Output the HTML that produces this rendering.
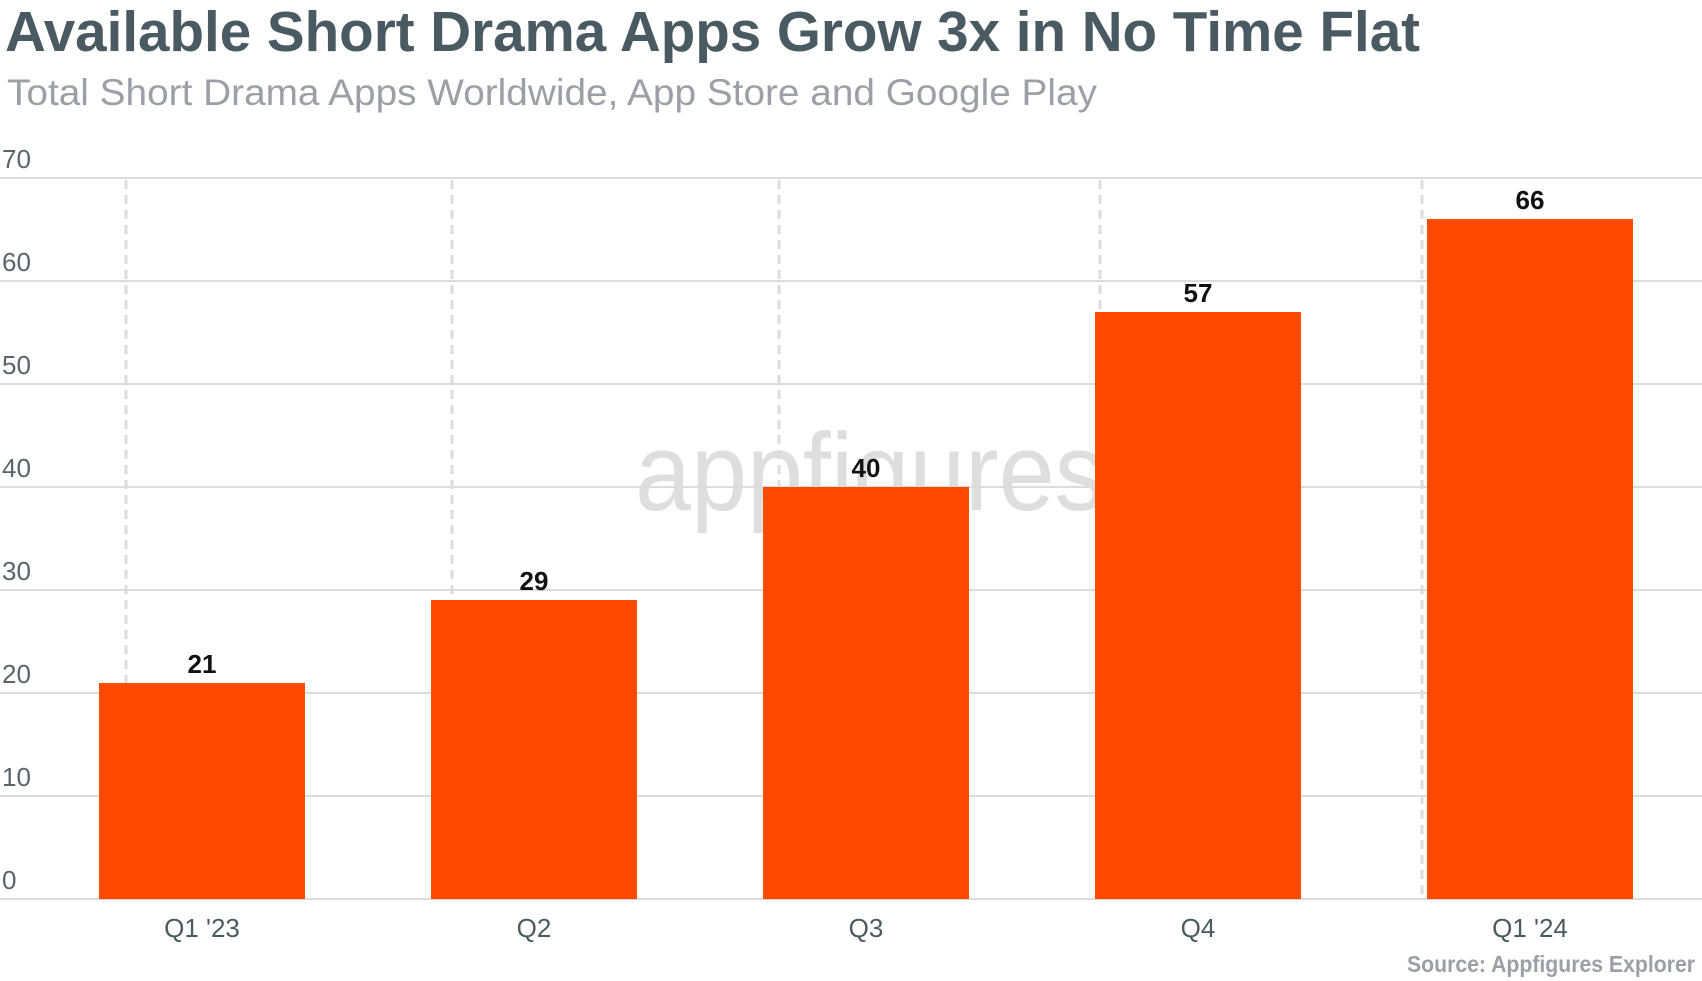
<!DOCTYPE html>
<html><head><meta charset="utf-8"><style>
html,body{margin:0;padding:0;background:#fff}
svg{display:block}
</style></head><body>
<svg width="1702" height="981" xmlns="http://www.w3.org/2000/svg" font-family="Liberation Sans, sans-serif">
<text x="5" y="51" font-size="57" font-weight="bold" fill="#4a5a63" textLength="1415" lengthAdjust="spacingAndGlyphs">Available Short Drama Apps Grow 3x in No Time Flat</text>
<text x="7" y="105" font-size="37" fill="#9aa0a6" textLength="1090" lengthAdjust="spacingAndGlyphs">Total Short Drama Apps Worldwide, App Store and Google Play</text>
<text x="635" y="510" font-size="110" fill="#dedede" textLength="470" lengthAdjust="spacingAndGlyphs">appfigures</text>
<g stroke="#dcdcdc" stroke-width="2">
<line x1="0" x2="1702" y1="178" y2="178"/><line x1="0" x2="1702" y1="281" y2="281"/>
<line x1="0" x2="1702" y1="384" y2="384"/><line x1="0" x2="1702" y1="487" y2="487"/>
<line x1="0" x2="1702" y1="590" y2="590"/><line x1="0" x2="1702" y1="693" y2="693"/>
<line x1="0" x2="1702" y1="796" y2="796"/><line x1="0" x2="1702" y1="899" y2="899"/>
</g>
<g stroke="#dcdcdc" stroke-width="3" stroke-dasharray="9,6">
<line x1="126" x2="126" y1="180" y2="899"/><line x1="452" x2="452" y1="180" y2="899"/>
<line x1="779" x2="779" y1="180" y2="899"/><line x1="1100" x2="1100" y1="180" y2="899"/>
<line x1="1422" x2="1422" y1="180" y2="899"/>
</g>
<g font-size="26" fill="#5a646b">
<text x="2" y="168">70</text><text x="2" y="271">60</text><text x="2" y="374">50</text>
<text x="2" y="477">40</text><text x="2" y="580">30</text><text x="2" y="683">20</text>
<text x="2" y="786">10</text><text x="2" y="889">0</text>
</g>
<g fill="#ff4a00">
<rect x="99" y="683" width="206" height="216"/>
<rect x="431" y="600" width="206" height="299"/>
<rect x="763" y="487" width="206" height="412"/>
<rect x="1095" y="312" width="206" height="587"/>
<rect x="1427" y="219" width="206" height="680"/>
</g>
<g font-size="26" font-weight="bold" fill="#111" text-anchor="middle">
<text x="202" y="673">21</text><text x="534" y="590">29</text><text x="866" y="477">40</text>
<text x="1198" y="302">57</text><text x="1530" y="209">66</text>
</g>
<g font-size="26" fill="#4a5a63" text-anchor="middle">
<text x="202" y="937">Q1 '23</text><text x="534" y="937">Q2</text><text x="866" y="937">Q3</text>
<text x="1198" y="937">Q4</text><text x="1530" y="937">Q1 '24</text>
</g>
<text x="1407" y="972" font-size="23" font-weight="bold" fill="#9aa0a6" textLength="288" lengthAdjust="spacingAndGlyphs">Source: Appfigures Explorer</text>
</svg>
</body></html>
